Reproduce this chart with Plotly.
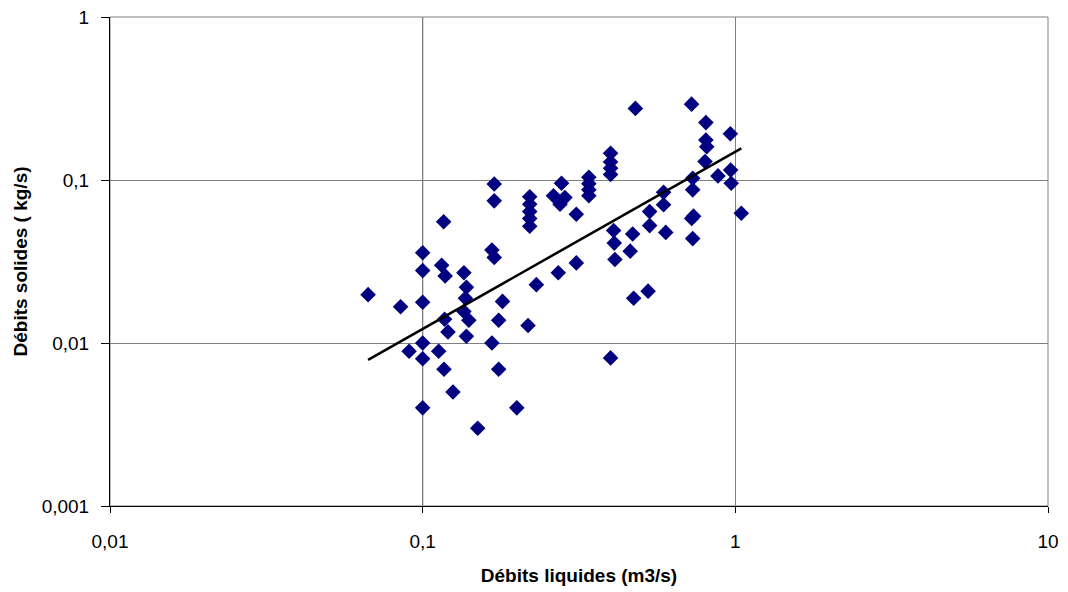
import plotly.graph_objects as go

# Débits liquides (m3/s)
q_liquid = [0.0669, 0.085, 0.0905, 0.100, 0.100, 0.100, 0.100, 0.100, 0.100, 0.1125,
            0.1167, 0.115, 0.118, 0.1175, 0.1205, 0.117, 0.125, 0.1355, 0.138, 0.137,
            0.1355, 0.1405, 0.138, 0.150, 0.1665, 0.1694, 0.1694, 0.1694, 0.1665, 0.175,
            0.180, 0.175, 0.200, 0.2173, 0.22, 0.22, 0.22, 0.22, 0.22, 0.231,
            0.2715, 0.310, 0.310, 0.278, 0.262, 0.285, 0.275, 0.340, 0.340, 0.340,
            0.340, 0.399, 0.399, 0.399, 0.399, 0.408, 0.410, 0.412, 0.399, 0.4695,
            0.461, 0.473, 0.526, 0.479, 0.532, 0.532, 0.5895, 0.5895, 0.599, 0.7245,
            0.7305, 0.7305, 0.725, 0.735, 0.7305, 0.805, 0.805, 0.81, 0.80, 0.88,
            0.964, 0.966, 0.970, 1.045]
# Débits solides (kg/s)
q_solid = [0.0198, 0.0167, 0.0089, 0.0358, 0.0278, 0.0178, 0.0100, 0.0080, 0.0040, 0.0089,
           0.0555, 0.0300, 0.0258, 0.0140, 0.0117, 0.0069, 0.0050, 0.0270, 0.0220, 0.0188,
           0.0156, 0.0138, 0.0110, 0.0030, 0.0372, 0.0335, 0.0945, 0.0745, 0.0100, 0.0138,
           0.0180, 0.0069, 0.0040, 0.0128, 0.079, 0.071, 0.064, 0.058, 0.052, 0.0228,
           0.0270, 0.0310, 0.0616, 0.0955, 0.080, 0.078, 0.071, 0.104, 0.095, 0.087,
           0.080, 0.146, 0.129, 0.118, 0.108, 0.049, 0.041, 0.0325, 0.0081, 0.0466,
           0.0366, 0.0188, 0.0208, 0.275, 0.064, 0.0525, 0.084, 0.0705, 0.0477, 0.292,
           0.1025, 0.087, 0.058, 0.060, 0.0437, 0.225, 0.176, 0.160, 0.130, 0.106,
           0.192, 0.115, 0.0955, 0.0625]

# Power trend line: y = a * x^b
trend_a = 0.149
trend_b = 1.087

x_ticks = [0.01, 0.1, 1, 10]
x_ticklabels = ["0,01", "0,1", "1", "10"]
y_ticks = [0.001, 0.01, 0.1, 1]
y_ticklabels = ["0,001", "0,01", "0,1", "1"]

trend_x = [min(q_liquid), max(q_liquid)]
trend_y = [trend_a * v ** trend_b for v in trend_x]

fig = go.Figure()
fig.add_trace(go.Scatter(
    x=q_liquid, y=q_solid, mode="markers",
    marker=dict(symbol="diamond", size=12, color="#000080", line=dict(width=0)),
    showlegend=False,
))
fig.add_trace(go.Scatter(
    x=trend_x, y=trend_y, mode="lines",
    line=dict(color="black", width=2.5),
    showlegend=False,
))

fig.add_vline(x=0.1, line=dict(color="black", width=1), layer="below")

font_family = "Liberation Sans, Arial, sans-serif"
fig.update_layout(
    width=1068, height=592,
    margin=dict(l=110, r=20, t=17, b=86),
    paper_bgcolor="white", plot_bgcolor="white",
    font=dict(family=font_family, size=19, color="black"),
    xaxis=dict(
        type="log", range=[-2, 1],
        tickvals=x_ticks, ticktext=x_ticklabels,
        showgrid=True, gridcolor="#808080", gridwidth=1,
        showline=True, linecolor="black", linewidth=1,
        ticks="outside", ticklen=6, tickcolor="black",
        ticklabelstandoff=12,
        tickfont=dict(size=19),
        title=dict(text="<b>Débits liquides (m3/s)</b>", font=dict(size=19), standoff=17),
        zeroline=False, automargin=False,
    ),
    yaxis=dict(
        type="log", range=[-3, 0],
        tickvals=y_ticks, ticktext=y_ticklabels,
        showgrid=True, gridcolor="#808080", gridwidth=1,
        showline=True, linecolor="black", linewidth=1,
        ticks="outside", ticklen=8, tickcolor="black",
        ticklabelstandoff=8,
        tickfont=dict(size=19),
        title=dict(text="<b>Débits solides ( kg/s)</b>", font=dict(size=19), standoff=9),
        zeroline=False, automargin=False,
    ),
)
fig.add_shape(type="rect", xref="paper", yref="paper", x0=0, y0=0, x1=1, y1=1,
              line=dict(color="#808080", width=1), layer="below")

fig.write_html("out.html", config={"displayModeBar": False},
               post_script="document.body.style.margin='0';document.body.style.padding='0';")
